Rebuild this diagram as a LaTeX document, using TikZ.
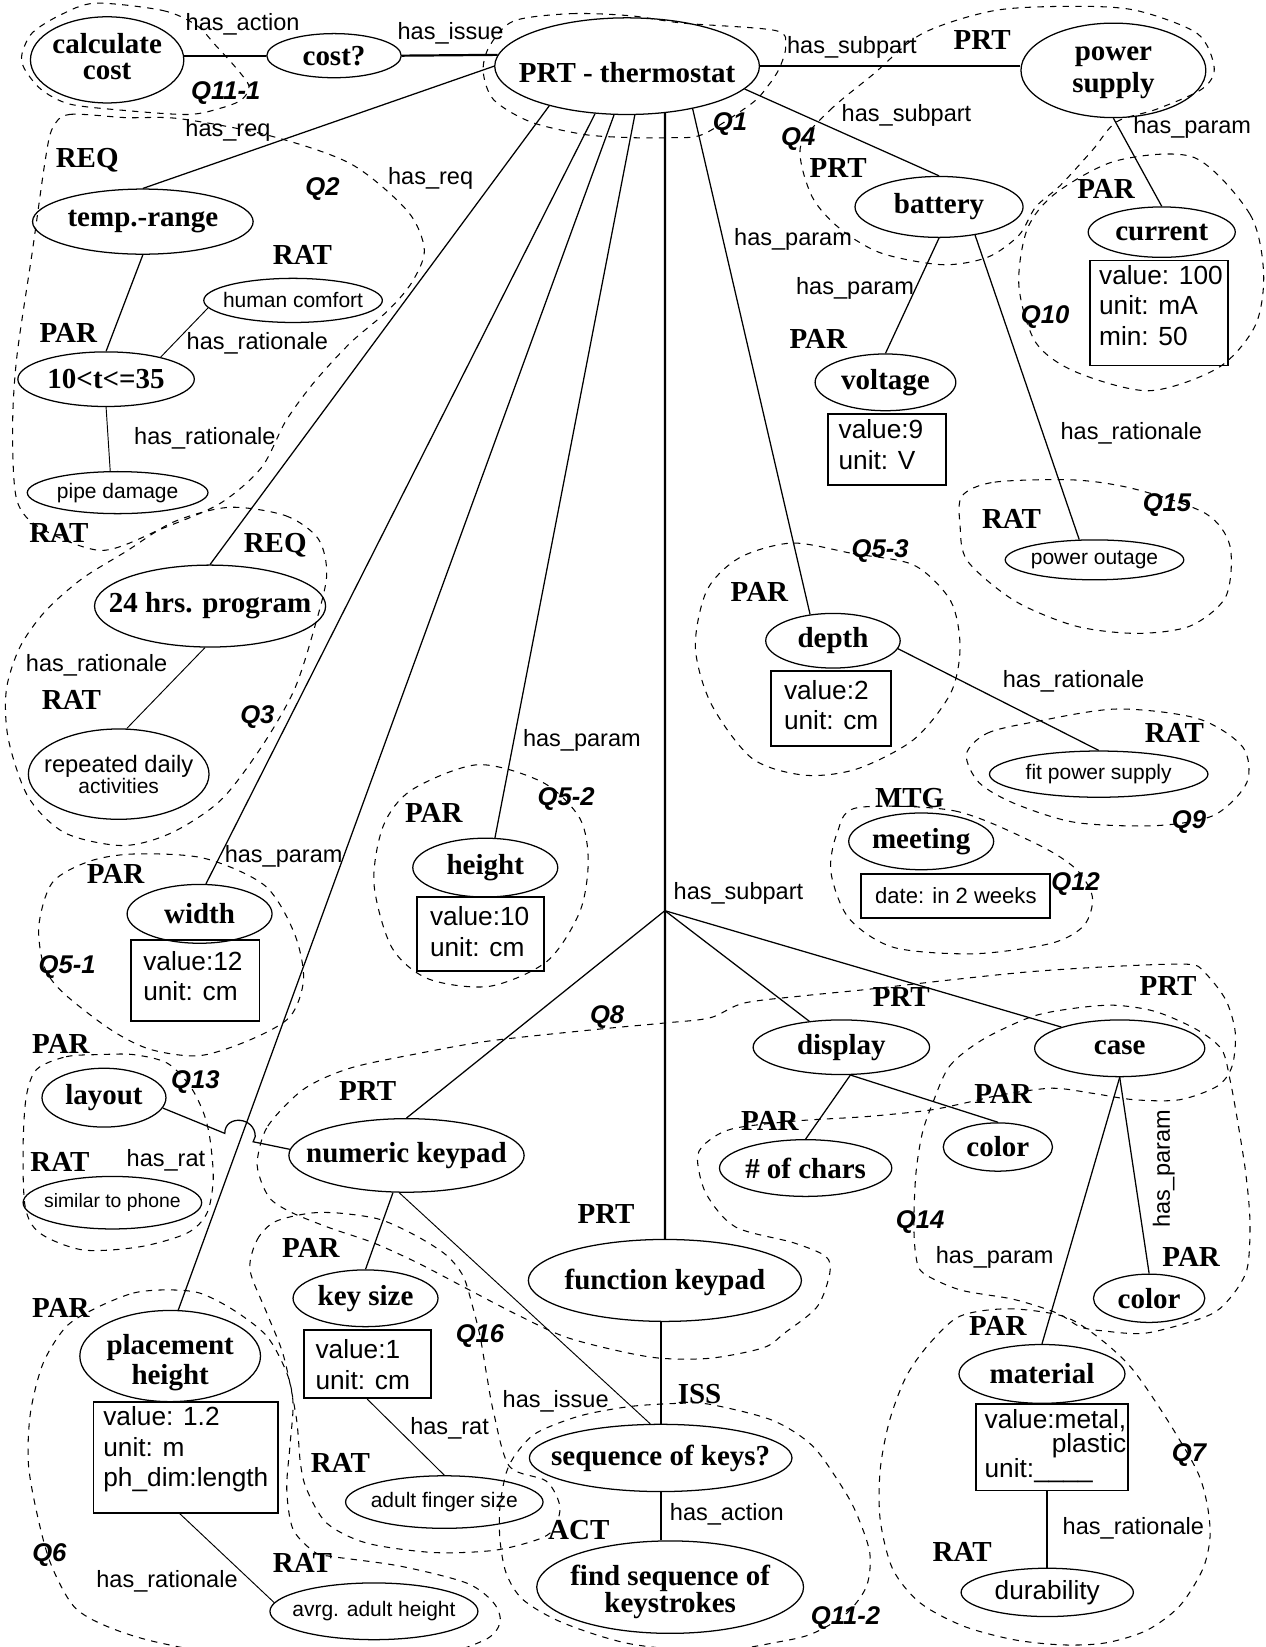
\documentclass[tikz,border=0pt]{standalone}
\usepackage{fontspec}
\setmainfont{Liberation Serif}
\setsansfont{Liberation Sans}
\usetikzlibrary{shapes.geometric,calc}
\newcommand\bfn{\fontsize{13.8}{16.5}\selectfont\bfseries}
\newcommand\rln{\sffamily\fontsize{11.2}{13}\selectfont}
\newcommand\smn{\sffamily\fontsize{10}{12}\selectfont}
\newcommand\qln{\sffamily\bfseries\itshape\fontsize{12.2}{14}\selectfont}
\newcommand\vln{\sffamily\fontsize{12.5}{14.5}\selectfont}
\newcommand\zw[1]{\makebox[0pt]{#1}}
\newcommand\lw[2]{\makebox[0pt]{\raisebox{#1}[\height][\depth]{#2}}}
\newcommand\twol[4]{\makebox[0pt]{\raisebox{#4}[\height][\depth]{\begin{tabular}{@{}c@{}}#1\\[#3]#2\end{tabular}}}}
\tikzset{
  ell/.style={draw, ellipse, inner sep=0pt, line width=0.6pt},
  bell/.style={ell, font=\bfn},
  sell/.style={ell, font=\smn},
  typ/.style={font=\bfn, inner sep=0pt},
  rel/.style={font=\rln, inner sep=0pt},
  qn/.style={font=\qln, inner sep=0pt},
  vbox/.style={draw, line width=0.9pt, inner sep=0pt},
  vtxt/.style={font=\vln, align=left, inner sep=0pt, anchor=north west},
  conn/.style={line width=0.6pt},
  thk/.style={line width=1.05pt},
  thn/.style={line width=0.45pt},
  qline/.style={dash pattern=on 3pt off 3pt, line width=0.5pt}
}
\begin{document}
\begin{tikzpicture}[x=0.5pt,y=-0.5pt]
\fill[white] (0,0) rectangle (1205,1568);
\useasboundingbox (0,0) rectangle (1205,1568);

% ---------- dashed question regions ----------
\draw[qline] plot[smooth cycle] coordinates {(91,3) (155,10) (187,24) (206,44) (225,65) (237,82) (230,95) (210,103) (179,109) (117,105) (66,99) (39,85) (23,65) (21,51) (31,31) (58,14)};
\draw[qline] plot[smooth cycle] coordinates {(489,20) (544,13) (600,15) (650,22) (738,29) (748,44) (742,65) (731,82) (715,99) (669,128) (638,131) (600,131) (556,128) (505,116) (470,95) (460,68) (466,44)};
\draw[qline] plot[smooth cycle] coordinates {(762,140) (790,105) (831,71) (878,32) (947,10) (1024,6) (1082,10) (1140,32) (1156,65) (1144,85) (1101,104) (1063,116) (1040,143) (1009,177) (986,197) (970,224) (940,245) (897,252) (839,241) (800,218) (773,187)};
\draw[qline] plot[smooth cycle] coordinates {(50,122) (66,109) (120,112) (171,113) (256,129) (334,156) (388,201) (404,238) (392,269) (369,296) (334,326) (299,364) (272,401) (249,445) (210,479) (155,503) (97,524) (39,503) (16,476) (12,408) (16,340) (31,238) (43,153)};
\draw[qline] plot[smooth cycle] coordinates {(1137,150) (1190,204) (1203,260) (1195,310) (1160,350) (1094,372) (1024,354) (986,326) (970,272) (978,218) (1005,184) (1063,153)};
\draw[qline] plot[smooth cycle] coordinates {(916,472) (947,459) (1024,457) (1082,466) (1148,489) (1171,520) (1167,568) (1133,596) (1082,603) (1024,596) (966,572) (921,534) (914,500)};
\draw[qline] plot[smooth cycle] coordinates {(218,483) (272,491) (303,513) (311,548) (299,599) (280,657) (249,711) (210,762) (163,793) (117,805) (62,793) (27,759) (8,704) (6,657) (19,616) (43,582) (78,551) (120,525) (165,497)};
\draw[qline] plot[smooth cycle] coordinates {(754,517) (812,527) (870,538) (905,572) (914,616) (905,660) (870,704) (816,732) (766,738) (716,722) (677,670) (662,616) (673,562) (704,531)};
\draw[qline] plot[smooth cycle] coordinates {(920,718) (940,698) (986,687) (1063,675) (1140,684) (1183,711) (1187,745) (1156,776) (1101,786) (1024,783) (966,765) (932,745)};
\draw[qline] plot[smooth cycle] coordinates {(455,728) (517,745) (552,779) (560,820) (552,868) (521,915) (466,939) (408,932) (373,902) (356,841) (365,786) (392,752)};
\draw[qline] plot[smooth cycle] coordinates {(816,769) (909,772) (986,803) (1024,827) (1040,854) (1032,881) (1001,898) (928,908) (851,902) (808,874) (791,830) (797,793)};
\draw[qline] plot[smooth cycle] coordinates {(128,813) (194,817) (252,843) (280,888) (289,932) (276,968) (238,990) (190,1005) (143,999) (105,980) (60,945) (42,920) (37,881) (50,840) (85,820)};
\draw[qline] plot[smooth cycle] coordinates {(35,1018) (63,1006) (95,1004) (127,1004) (159,1012) (181,1034) (194,1060) (200,1085) (203,1123) (197,1155) (178,1174) (133,1187) (79,1190) (38,1174) (24,1149) (22,1092) (25,1044)};
\draw[qline] plot[smooth cycle] coordinates {(245,1104) (255,1072) (289,1037) (333,1017) (398,1003) (466,991) (568,980) (632,974) (676,969) (708,955) (765,948) (825,942) (904,933) (982,925) (1061,920) (1131,918) (1147,926) (1167,952) (1176,983) (1173,1015) (1159,1034) (1123,1047) (1080,1047) (1041,1041) (1002,1036) (955,1042) (919,1050) (884,1057) (825,1063) (760,1067) (700,1074) (676,1085) (664,1101) (672,1136) (700,1168) (755,1183) (786,1196) (790,1212) (778,1244) (747,1269) (727,1283) (677,1293) (628,1293) (584,1285) (536,1272) (489,1250) (441,1225) (397,1202) (355,1183) (314,1169) (279,1155) (258,1142) (248,1123)};
\draw[qline] plot[smooth cycle] coordinates {(888,1050) (904,1015) (935,990) (982,968) (1022,960) (1061,957) (1100,963) (1139,980) (1163,999) (1171,1028) (1178,1066) (1186,1117) (1190,1164) (1187,1209) (1170,1237) (1149,1253) (1092,1269) (1050,1267) (1028,1263) (1006,1250) (965,1237) (914,1228) (879,1212) (872,1196) (870,1164) (872,1117) (878,1079)};
\draw[qline] plot[smooth cycle] coordinates {(238,1209) (245,1180) (262,1163) (295,1155) (324,1155) (362,1161) (397,1177) (425,1195) (441,1215) (450,1244) (457,1272) (463,1307) (470,1345) (485,1396) (520,1410) (533,1434) (527,1456) (511,1466) (470,1476) (412,1478) (349,1469) (311,1450) (292,1418) (286,1393) (282,1349) (270,1291) (254,1250)};
\draw[qline] plot[smooth cycle] coordinates {(600,1339) (647,1336) (676,1337) (735,1352) (773,1376) (800,1413) (815,1440) (828,1478) (825,1510) (806,1536) (774,1555) (742,1563) (680,1572) (600,1565) (536,1545) (498,1523) (482,1498) (476,1466) (476,1434) (482,1402) (492,1383) (511,1364) (552,1348)};
\draw[qline] plot[smooth cycle] coordinates {(914,1253) (960,1246) (1012,1253) (1044,1272) (1076,1301) (1107,1345) (1139,1399) (1149,1431) (1152,1463) (1145,1494) (1123,1529) (1092,1552) (1053,1564) (1012,1566) (965,1561) (917,1548) (876,1526) (850,1494) (838,1447) (838,1399) (847,1352) (863,1310) (885,1279)};
\draw[qline] plot[smooth cycle] coordinates {(92,1245) (127,1231) (159,1228) (190,1231) (222,1247) (254,1272) (273,1307) (279,1336) (276,1377) (273,1418) (279,1456) (300,1478) (317,1482) (381,1491) (444,1507) (470,1526) (476,1545) (460,1562) (400,1578) (250,1580) (152,1564) (101,1548) (70,1529) (48,1488) (35,1440) (27,1393) (29,1345) (41,1298) (63,1263)};

% ---------- nodes ----------
\node[bell, minimum width=73pt, minimum height=31pt] (calc) at (102,57) {\twol{calculate}{cost}{-4pt}{0pt}};
\node[bell, minimum width=64pt, minimum height=21pt] (cost) at (318,53) {\zw{cost?}};
\node[bell, minimum width=126pt, minimum height=46pt] (prt) at (597,63) {\lw{-3pt}{PRT - thermostat}};
\node[bell, minimum width=88pt, minimum height=35pt] (power) at (1060,67) {\twol{power}{supply}{-1.2pt}{0.5pt}};
\node[bell, minimum width=80pt, minimum height=29pt] (battery) at (894,197) {\zw{battery}};
\node[bell, minimum width=67pt, minimum height=27pt] (voltage) at (843,364) {\zw{voltage}};
\node[bell, minimum width=70pt, minimum height=24pt] (current) at (1106,221) {\zw{current}};
\node[sell, minimum width=85pt, minimum height=19pt] (outage) at (1042,533) {\zw{power outage}};
\node[bell, minimum width=64pt, minimum height=26pt] (depth) at (793,610) {\zw{depth}};
\node[sell, minimum width=104pt, minimum height=22pt] (fit) at (1046,737) {\zw{fit power supply}};
\node[bell, minimum width=69pt, minimum height=27pt] (meeting) at (877,801) {\zw{meeting}};
\node[bell, minimum width=84pt, minimum height=26pt] (display) at (801,997) {\zw{display}};
\node[bell, minimum width=81pt, minimum height=27pt] (case) at (1066,998) {\zw{case}};
\node[bell, minimum width=52pt, minimum height=23pt] (color1) at (950,1092) {\zw{color}};
\node[bell, minimum width=82pt, minimum height=27pt] (nchars) at (767,1112) {\zw{\# of chars}};
\node[bell, minimum width=53pt, minimum height=23pt] (color2) at (1094,1236) {\zw{color}};
\node[bell, minimum width=130pt, minimum height=39pt] (fkey) at (633,1219) {\lw{-1pt}{function keypad}};
\node[bell, minimum width=125pt, minimum height=32pt] (seq) at (629,1388) {\zw{sequence of keys?}};
\node[bell, minimum width=127pt, minimum height=44pt] (find) at (638,1511) {\twol{find sequence of}{keystrokes}{-3.8pt}{-2.5pt}};
\node[bell, minimum width=112pt, minimum height=35pt] (numeric) at (387,1100) {\zw{numeric keypad}};
\node[bell, minimum width=59pt, minimum height=28pt] (layout) at (99,1045) {\zw{layout}};
\node[ell, font=\sffamily\fontsize{9.2}{11}\selectfont, minimum width=85pt, minimum height=25pt] (similar) at (107,1145) {\zw{similar to phone}};
\node[bell, minimum width=69pt, minimum height=27pt] (keysize) at (348,1236) {\zw{key size}};
\node[sell, minimum width=94pt, minimum height=25pt] (finger) at (423,1430) {\zw{adult finger size}};
\node[bell, minimum width=86pt, minimum height=42pt] (placement) at (162,1291) {\twol{placement}{height}{-2.3pt}{-3pt}};
\node[sell, minimum width=99pt, minimum height=27pt] (avrg) at (356,1534) {\zw{avrg. adult height}};
\node[bell, minimum width=79pt, minimum height=28pt] (material) at (992,1308) {\zw{material}};
\node[ell, font=\sffamily\fontsize{12.5}{15}\selectfont, minimum width=82pt, minimum height=23pt] (durab) at (997,1516) {\zw{durability}};
\node[bell, minimum width=105pt, minimum height=31pt] (temp) at (136,211) {\zw{temp.-range}};
\node[bell, minimum width=84pt, minimum height=26pt] (tcond) at (101,361) {\zw{10<t<=35}};
\node[sell, minimum width=85pt, minimum height=21pt] (comfort) at (279,286) {\zw{human comfort}};
\node[sell, minimum width=86pt, minimum height=20pt] (pipe) at (112,469) {\zw{pipe damage}};
\node[bell, minimum width=110pt, minimum height=39pt] (prog) at (200,577) {\zw{24 hrs. program}};
\node[ell, minimum width=86pt, minimum height=43pt] (daily) at (113,737) {\makebox[0pt]{\raisebox{-2pt}[\height][\depth]{\begin{tabular}{@{}c@{}}\sffamily\fontsize{11.3}{13.5}\selectfont repeated daily\\[-2pt]\sffamily\fontsize{10}{12}\selectfont activities\end{tabular}}}};
\node[bell, minimum width=69pt, minimum height=28pt] (width) at (190,870) {\zw{width}};
\node[bell, minimum width=69pt, minimum height=28pt] (height) at (462,826) {\zw{height}};

% ---------- value boxes ----------
\node[vbox, minimum width=65.5pt, minimum height=50pt] (curbox) at (1103.5,298) {};
\node[vtxt] (curtxt) at (1046,252) {value: 100\\unit: mA\\min: 50};
\node[vbox, minimum width=56.5pt, minimum height=34pt] (voltbox) at (844.5,428) {};
\node[vtxt] (volttxt) at (798,399) {value:9\\unit: V};
\node[vbox, minimum width=57pt, minimum height=35.5pt] (depthbox) at (791,674.5) {};
\node[vtxt] (depthtxt) at (746,647) {value:2\\unit: cm};
\node[vbox, minimum width=90pt, minimum height=21pt, font=\sffamily\fontsize{10.5}{12}\selectfont] (meetbox) at (910,853) {date: in 2 weeks};
\node[vbox, minimum width=61pt, minimum height=38.5pt] (widthbox) at (186,933.5) {};
\node[vtxt] (widthtxt) at (136,905) {value:12\\unit: cm};
\node[vbox, minimum width=60.5pt, minimum height=35pt] (heightbox) at (457.5,889) {};
\node[vtxt] (heighttxt) at (409,863) {value:10\\unit: cm};
\node[vbox, minimum width=60.5pt, minimum height=32.5pt] (keybox) at (349.5,1298.5) {};
\node[vtxt] (keytxt) at (300,1275) {value:1\\unit: cm};
\node[vbox, minimum width=88pt, minimum height=52.5pt] (placebox) at (177,1387.5) {};
\node[vtxt] (placetxt) at (98,1339) {value: 1.2\\unit: m\\ph\_dim:length};
\node[vbox, minimum width=72.5pt, minimum height=41pt] (matbox) at (1001.5,1378) {};
\node[font=\sffamily\fontsize{12.5}{11.5}\selectfont, inner sep=0pt, anchor=north west] (mattxt) at (937,1341) {\begin{tabular}{@{}l@{}}value:metal,\\[-0.8pt]\multicolumn{1}{@{}r@{}}{plastic}\\[-0.8pt]unit:\_\_\_\_\end{tabular}};

% ---------- connectors ----------
\draw[thk] (calc.east |- cost.west) -- (cost.west);
\draw[thk] (cost.east) -- (prt.175);
\draw[thk] (prt.east) -- (power.west |- prt.east);
\draw[conn] (prt.349) -- (battery.north);
\draw[conn] (battery.south) -- (voltage.north);
\draw[conn] (power.south) -- (current.north);
\draw[conn] (battery.322) -- (outage.127);
\draw[conn] (prt.327) -- (depth.131);
\draw[conn] (depth.353) -- (fit.north);
\coordinate (jn) at (633,867);
\draw[thk] (prt.309) -- (jn) -- (fkey.north);
\draw[conn] (jn) -- (numeric.north);
\draw[conn] (jn) -- (display.141);
\draw[conn] (jn) -- (case.160);
\draw[conn] (display.288) -- (color1.north);
\draw[conn] (display.288) -- (nchars.north);
\draw[conn] (case.south) -- (material.north);
\draw[conn] (case.south) -- (color2.north);
\draw[thk] (seq.north |- fkey.south) -- (seq.north);
\draw[thk] (seq.south) -- (seq.south |- find.north);
\draw[conn] (numeric.250) -- (keysize.north);
\draw[thn] (numeric.259) -- (seq.107);
\draw[thn] (keybox.south) -- (finger.north);
\draw[thn] ($(placebox.south)+(-6,0)$) -- (avrg.175);
\draw[conn] (prt.west) -- (temp.north);
\draw[conn] (prt.207) -- (prog.north);
\draw[thn] (prog.263) -- (daily.80);
\draw[conn] (prt.236) -- (width.78);
\draw[conn] (prt.255) -- (placement.80);
\draw[conn] (prt.279) -- (height.72);
\draw[conn] (temp.south) -- (tcond.north);
\draw[thn] (tcond.22) -- (comfort.185);
\draw[thn] (tcond.south) -- (pipe.109);
\draw[thk] (durab.north |- matbox.south) -- (durab.north);
\coordinate (hopA) at (214,1079);
\coordinate (hopB) at (243,1082);
\coordinate (hopC) at (241,1087);
\draw[conn] (layout.350) -- (hopA) .. controls (214,1061) and (243,1063) .. (hopB) -- (hopC) -- (numeric.177);

% ---------- type labels ----------
\node[typ] (t1) at (935,38) {PRT};
\node[typ] (t2) at (798,160) {PRT};
\node[typ] (t3) at (1053,180) {PAR};
\node[typ] (t4) at (83,153) {REQ};
\node[typ] (t5) at (288,243) {RAT};
\node[typ] (t6) at (65,317) {PAR};
\node[typ] (t7) at (779,323) {PAR};
\node[typ] (t8) at (56,507) {RAT};
\node[typ] (t9) at (262,519) {REQ};
\node[typ] (t10) at (963,494) {RAT};
\node[typ] (t11) at (723,564) {PAR};
\node[typ] (t12) at (68,666) {RAT};
\node[typ] (t13) at (1118,698) {RAT};
\node[typ] (t14) at (866,760) {MTG};
\node[typ] (t15) at (413,774) {PAR};
\node[typ] (t16) at (110,832) {PAR};
\node[typ] (t17) at (858,949) {PRT};
\node[typ] (t18) at (1112,939) {PRT};
\node[typ] (t19) at (58,994) {PAR};
\node[typ] (t20) at (350,1039) {PRT};
\node[typ] (t21) at (955,1041) {PAR};
\node[typ] (t22) at (733,1067) {PAR};
\node[typ] (t23) at (57,1106) {RAT};
\node[typ] (t24) at (577,1156) {PRT};
\node[typ] (t25) at (296,1188) {PAR};
\node[typ] (t26) at (1134,1197) {PAR};
\node[typ] (t27) at (58,1245) {PAR};
\node[typ] (t28) at (950,1262) {PAR};
\node[typ] (t29) at (666,1327) {ISS};
\node[typ] (t30) at (324,1393) {RAT};
\node[typ] (t31) at (551,1457) {ACT};
\node[typ] (t32) at (916,1477) {RAT};
\node[typ] (t33) at (288,1488) {RAT};

% ---------- relation labels ----------
\node[rel] (r1) at (231,23) {has\_action};
\node[rel] (r2) at (429,32) {has\_issue};
\node[rel] (r3) at (811,45) {has\_subpart};
\node[rel] (r4) at (863,110) {has\_subpart};
\node[rel] (r5) at (1135,121) {has\_param};
\node[rel] (r6) at (217,124) {has\_req};
\node[rel] (r7) at (410,170) {has\_req};
\node[rel] (r8) at (755,228) {has\_param};
\node[rel] (r9) at (814,275) {has\_param};
\node[rel] (r10) at (245,327) {has\_rationale};
\node[rel] (r11) at (195,417) {has\_rationale};
\node[rel] (r12) at (1077,413) {has\_rationale};
\node[rel] (r13) at (1022,649) {has\_rationale};
\node[rel] (r14) at (92,633) {has\_rationale};
\node[rel] (r15) at (554,705) {has\_param};
\node[rel] (r16) at (270,815) {has\_param};
\node[rel] (r17) at (703,851) {has\_subpart};
\node[rel] (r18) at (158,1105) {has\_rat};
\node[rel, rotate=90] (r19) at (1108,1113) {has\_param};
\node[rel] (r20) at (947,1197) {has\_param};
\node[rel] (r21) at (529,1334) {has\_issue};
\node[rel] (r22) at (428,1360) {has\_rat};
\node[rel] (r23) at (692,1442) {has\_action};
\node[rel] (r24) at (1079,1455) {has\_rationale};
\node[rel] (r25) at (159,1505) {has\_rationale};

% ---------- question labels ----------
\node[qn] (q1) at (215,89) {Q11-1};
\node[qn] (q2) at (695,118) {Q1};
\node[qn] (q3) at (760,132) {Q4};
\node[qn] (q4) at (307,180) {Q2};
\node[qn] (q5) at (995,302) {Q10};
\node[qn] (q6) at (1111,481) {Q15};
\node[qn] (q7) at (838,525) {Q5-3};
\node[qn] (q8) at (245,683) {Q3};
\node[qn] (q9) at (539,761) {Q5-2};
\node[qn] (q10) at (1132,783) {Q9};
\node[qn] (q11) at (1024,842) {Q12};
\node[qn] (q12) at (64,921) {Q5-1};
\node[qn] (q13) at (578,968) {Q8};
\node[qn] (q14) at (186,1030) {Q13};
\node[qn] (q15) at (876,1163) {Q14};
\node[qn] (q16) at (457,1272) {Q16};
\node[qn] (q17) at (1132,1385) {Q7};
\node[qn] (q18) at (47,1480) {Q6};
\node[qn] (q19) at (805,1540) {Q11-2};
\end{tikzpicture}
\end{document}
